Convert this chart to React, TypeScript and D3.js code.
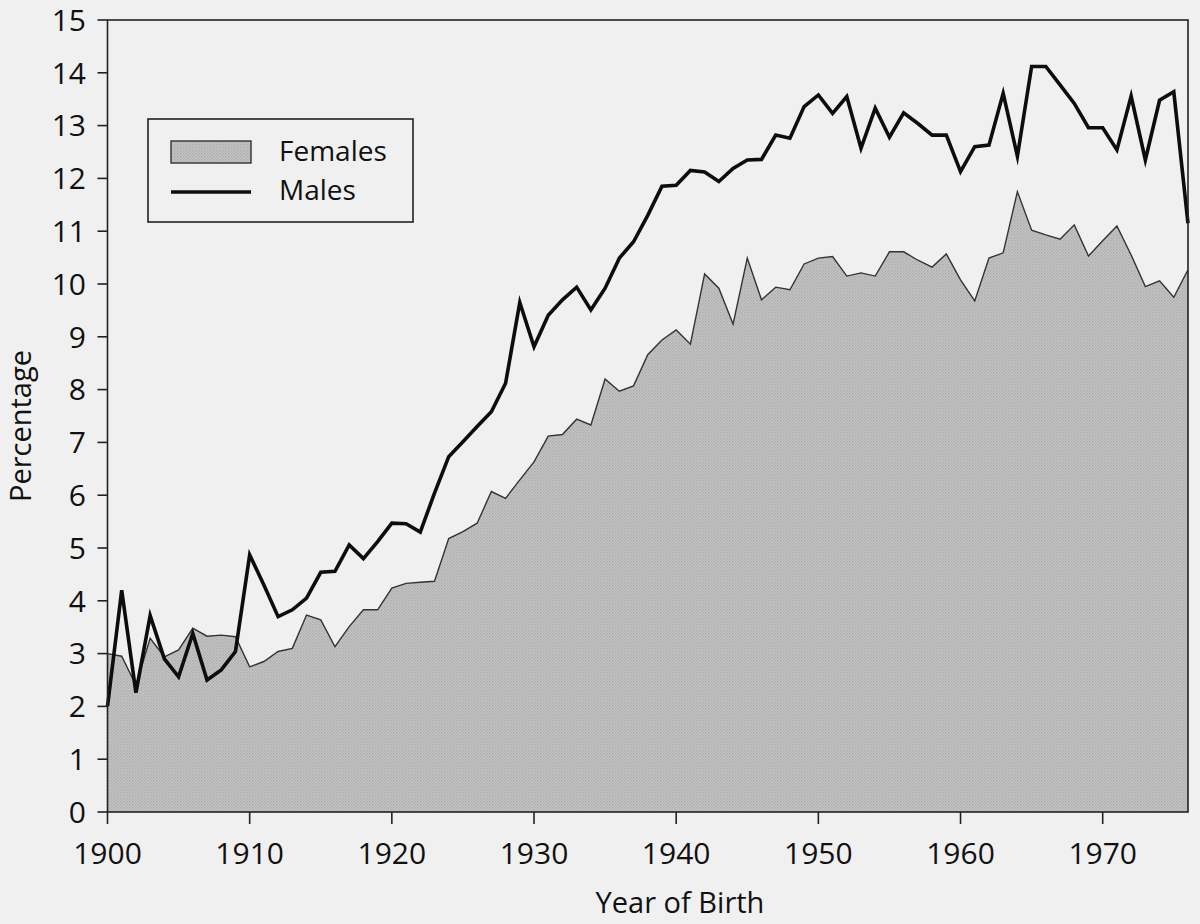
import React, { useEffect } from 'react';
import * as d3 from 'd3';

// Year of birth, 1900..1976
const years: number[] = d3.range(1900, 1977);

const males: number[] = [
  2.0, 4.2, 2.26, 3.72, 2.9, 2.56, 3.38, 2.5, 2.69, 3.04,
  4.87, 4.3, 3.7, 3.83, 4.05, 4.54, 4.56, 5.06, 4.8, 5.12,
  5.47, 5.46, 5.3, 6.04, 6.73, 7.01, 7.3, 7.58, 8.12, 9.65,
  8.81, 9.41, 9.7, 9.94, 9.51, 9.92, 10.49, 10.8, 11.3, 11.85,
  11.87, 12.15, 12.12, 11.94, 12.19, 12.35, 12.36, 12.82, 12.76, 13.36,
  13.58, 13.23, 13.55, 12.57, 13.33, 12.78, 13.24, 13.04, 12.82, 12.82,
  12.13, 12.6, 12.63, 13.61, 12.42, 14.12, 14.12, 13.77, 13.42, 12.96,
  12.96, 12.54, 13.56, 12.35, 13.48, 13.64, 11.15
];

const females: number[] = [
  3.0, 2.95, 2.4, 3.29, 2.94, 3.07, 3.48, 3.33, 3.35, 3.32,
  2.75, 2.85, 3.04, 3.1, 3.73, 3.64, 3.13, 3.51, 3.83, 3.83,
  4.24, 4.33, 4.35, 4.37, 5.18, 5.31, 5.47, 6.07, 5.94, 6.29,
  6.63, 7.12, 7.15, 7.44, 7.33, 8.2, 7.97, 8.07, 8.66, 8.94,
  9.13, 8.86, 10.19, 9.92, 9.24, 10.49, 9.7, 9.94, 9.89, 10.38,
  10.49, 10.52, 10.15, 10.21, 10.15, 10.61, 10.61, 10.45, 10.32, 10.57,
  10.08, 9.68, 10.49, 10.59, 11.75, 11.02, 10.93, 10.85, 11.12, 10.53,
  10.82, 11.1, 10.55, 9.95, 10.06, 9.75, 10.27
];

const yTicks: number[] = d3.range(0, 16);
const xTicks: number[] = [1900, 1910, 1920, 1930, 1940, 1950, 1960, 1970];
const legendLabels: string[] = ['Females', 'Males'];

const W = 1200;
const H = 924;
const FONT = '"Open Sans", "Noto Sans", sans-serif';

const App: React.FC = () => {
  useEffect(() => {
    document.body.style.margin = '0';
  }, []);

  const x = d3.scaleLinear().domain([1900, 1976]).range([107.5, 1188]);
  const y = d3.scaleLinear().domain([0, 15]).range([812, 20]);

  const femaleData = years.map((yr, i) => ({ yr, v: females[i] }));
  const maleData = years.map((yr, i) => ({ yr, v: males[i] }));

  const area = d3
    .area<{ yr: number; v: number }>()
    .x(d => x(d.yr))
    .y0(y(0))
    .y1(d => y(d.v));

  const line = d3
    .line<{ yr: number; v: number }>()
    .x(d => x(d.yr))
    .y(d => y(d.v));

  const [x0, x1] = x.range();
  const [yb, yt] = y.range();

  return (
    <svg width={W} height={H} style={{ display: 'block', background: '#f0f0f0' }}>
      <defs>
        <pattern id="stipple" width="3" height="3" patternUnits="userSpaceOnUse">
          <rect width="3" height="3" fill="#c7c7c7" />
          <rect x="0" y="0" width="1.5" height="1.5" fill="#aaaaaa" />
          <rect x="1.5" y="1.5" width="1.5" height="1.5" fill="#b3b3b3" />
        </pattern>
      </defs>

      {/* females area */}
      <path d={area(femaleData) || ''} fill="url(#stipple)" />
      <path d={line(femaleData) || ''} fill="none" stroke="#333" strokeWidth={1.4} />

      {/* males line */}
      <path
        d={line(maleData) || ''}
        fill="none"
        stroke="#0d0d0d"
        strokeWidth={3.6}
        strokeLinejoin="miter"
        strokeMiterlimit={6}
      />

      {/* frame */}
      <rect x={x0} y={yt} width={x1 - x0} height={yb - yt} fill="none" stroke="#222" strokeWidth={1.6} />

      {/* y axis */}
      {yTicks.map(t => (
        <g key={`y${t}`}>
          <line x1={x0 - 10} x2={x0} y1={y(t)} y2={y(t)} stroke="#222" strokeWidth={1.6} />
          <text
            x={86}
            y={y(t)}
            dy="0.36em"
            textAnchor="end"
            fontFamily={FONT}
            fontSize={30}
            fill="#111"
          >
            {t}
          </text>
        </g>
      ))}

      {/* x axis */}
      {xTicks.map(t => (
        <g key={`x${t}`}>
          <line x1={x(t)} x2={x(t)} y1={yb} y2={yb + 12} stroke="#222" strokeWidth={1.6} />
          <text x={x(t)} y={864} textAnchor="middle" fontFamily={FONT} fontSize={30} fill="#111">
            {t}
          </text>
        </g>
      ))}

      <text x={680} y={913} textAnchor="middle" fontFamily={FONT} fontSize={29} fill="#111">
        Year of Birth
      </text>
      <text
        transform="translate(31,426) rotate(-90)"
        textAnchor="middle"
        fontFamily={FONT}
        fontSize={29}
        fill="#111"
      >
        Percentage
      </text>

      {/* legend */}
      <rect x={148} y={119} width={265} height={103} fill="#f0f0f0" stroke="#222" strokeWidth={1.6} />
      <rect x={171} y={141} width={80} height={22} fill="url(#stipple)" stroke="#333" strokeWidth={1.4} />
      <line x1={171} x2={251} y1={192} y2={192} stroke="#0d0d0d" strokeWidth={3.6} />
      <text x={279} y={161} fontFamily={FONT} fontSize={28} fill="#111">
        {legendLabels[0]}
      </text>
      <text x={279} y={200} fontFamily={FONT} fontSize={28} fill="#111">
        {legendLabels[1]}
      </text>
    </svg>
  );
};

export default App;
